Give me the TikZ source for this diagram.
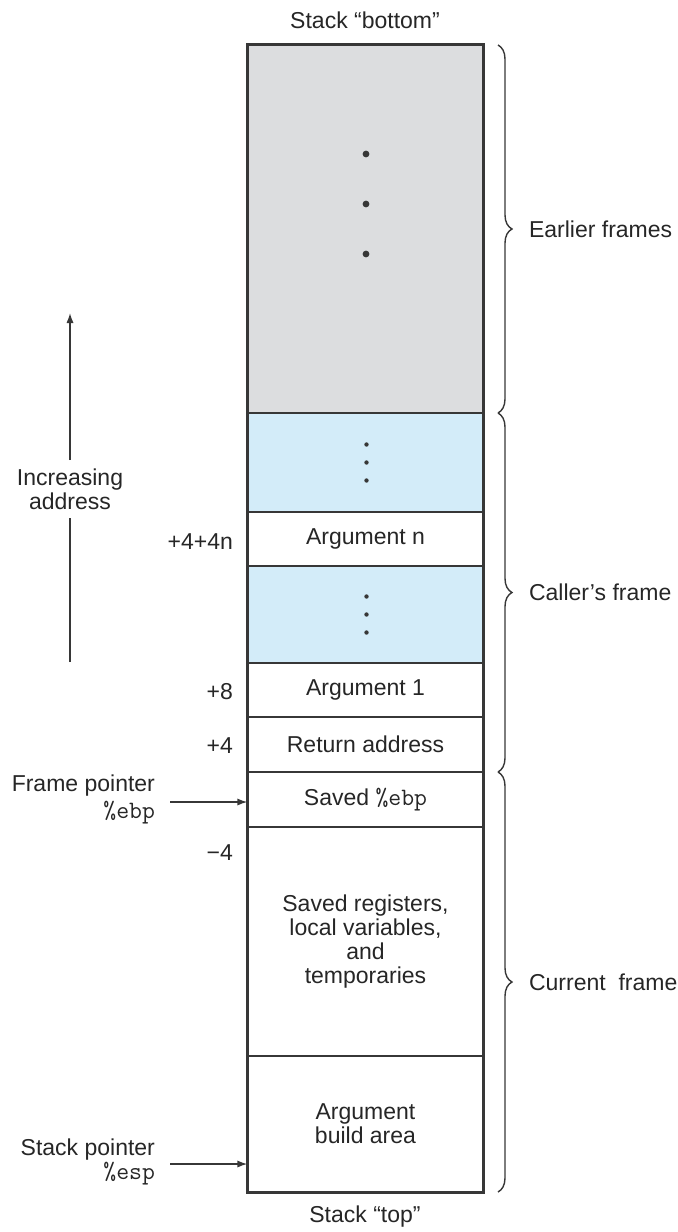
\documentclass[tikz,border=0pt]{standalone}
\usepackage{fontspec}
\setmainfont{Liberation Sans}
\usetikzlibrary{decorations.pathreplacing,arrows.meta,calc}
\definecolor{framegray}{RGB}{220,221,223}
\definecolor{frameblue}{RGB}{211,236,249}
\definecolor{linecol}{RGB}{55,55,55}
\newcommand{\regname}[1]{{\ttfamily\fontsize{12.5}{12}\selectfont #1}}
\begin{document}
\begin{tikzpicture}[x=0.5pt,y=-0.5pt,
  every node/.style={font=\fontsize{11.5}{12}\selectfont, text=black!85},
  cell/.style={draw=linecol, line width=0.7pt, minimum width=117.5pt, inner sep=0pt, align=center},
  graycell/.style={cell, fill=framegray},
  bluecell/.style={cell, fill=frameblue},
  offs/.style={anchor=east},
  ptrlabel/.style={anchor=east, align=right},
  arr/.style={draw=linecol, line width=0.7pt, -{Latex[length=5pt,width=3.6pt]}},
  plainline/.style={draw=linecol, line width=0.7pt},
  bracestyle/.style={draw=linecol, line width=0.7pt, decorate, decoration={brace, amplitude=7pt}},
  dotmark/.style={fill=linecol, draw=none}
]
\useasboundingbox (0,0) rectangle (678,1232);

% cells
\node[graycell, minimum height=184pt] (gray) at (365.5,229) {};
\node[bluecell, minimum height=49.5pt] (blueA) at (365.5,462.5) {};
\node[cell, minimum height=27pt] (argn) at (365.5,539) {Argument n};
\node[bluecell, minimum height=48.5pt] (blueB) at (365.5,614.5) {};
\node[cell, minimum height=27pt] (argone) at (365.5,690) {Argument 1};
\node[cell, minimum height=27.5pt] (ret) at (365.5,744.5) {Return address};
\node[cell, minimum height=27.5pt] (sebp) at (365.5,799.5) {Saved \regname{\%ebp}};
\node[cell, minimum height=114.5pt] (regs) at (365.5,941.5) {Saved registers,\\local variables,\\and\\temporaries};
\node[cell, minimum height=68pt] (build) at (365.5,1124) {Argument\\build area};

% outer border
\draw[linecol, line width=1.1pt] (gray.north west) rectangle (build.south east);

% dots
\foreach \yy in {154,204,254} \fill[dotmark] (366,\yy) circle (1.7pt);
\foreach \yy in {-18,0,18} {
  \fill[dotmark] ($(blueA.center)+(1,\yy)$) circle (1.1pt);
  \fill[dotmark] ($(blueB.center)+(1,\yy)$) circle (1.1pt);
}

% top / bottom labels
\node (sbot) at (365,20) {Stack “bottom”};
\node (stop) at (365,1217) {Stack “top”};

% offsets
\node[offs] (o1) at (240,542) {+4+4n};
\node[offs] (o2) at (240,692) {+8};
\node[offs] (o3) at (240,746) {+4};
\node[offs] (o4) at (240,853) {−4};

% pointers
\node[ptrlabel, font=\fontsize{11.5}{13.5}\selectfont] (fp) at (162,799) {Frame pointer\\\regname{\%ebp}};
\coordinate (fpstart) at (170,802);
\draw[arr] (fpstart) -- (fpstart -| sebp.west);
\node[ptrlabel] (sp) at (162,1162) {Stack pointer\\\regname{\%esp}};
\coordinate (spstart) at (170,1164);
\draw[arr] (spstart) -- (spstart -| build.west);

% increasing address
\node[align=center, inner sep=4pt] (inc) at (70,489) {Increasing\\address};
\coordinate (incbot) at (70,662);
\coordinate (inctop) at (70,313);
\draw[plainline] (incbot) -- (inc.south);
\draw[arr] (inc.north) -- (inctop);

% braces
\coordinate (b0) at (498,45);
\coordinate (b1) at (498,413);
\coordinate (b2) at (498,772);
\coordinate (b3) at (498,1192);
\draw[bracestyle] (b0) -- (b1);
\draw[bracestyle] (b1) -- (b2);
\draw[bracestyle] (b2) -- (b3);
\node[anchor=west] (ef) at (522,229) {Earlier frames};
\node[anchor=west] (cf) at (522,592) {Caller’s frame};
\node[anchor=west] (cur) at (522,982) {Current\ \ frame};
\end{tikzpicture}
\end{document}
